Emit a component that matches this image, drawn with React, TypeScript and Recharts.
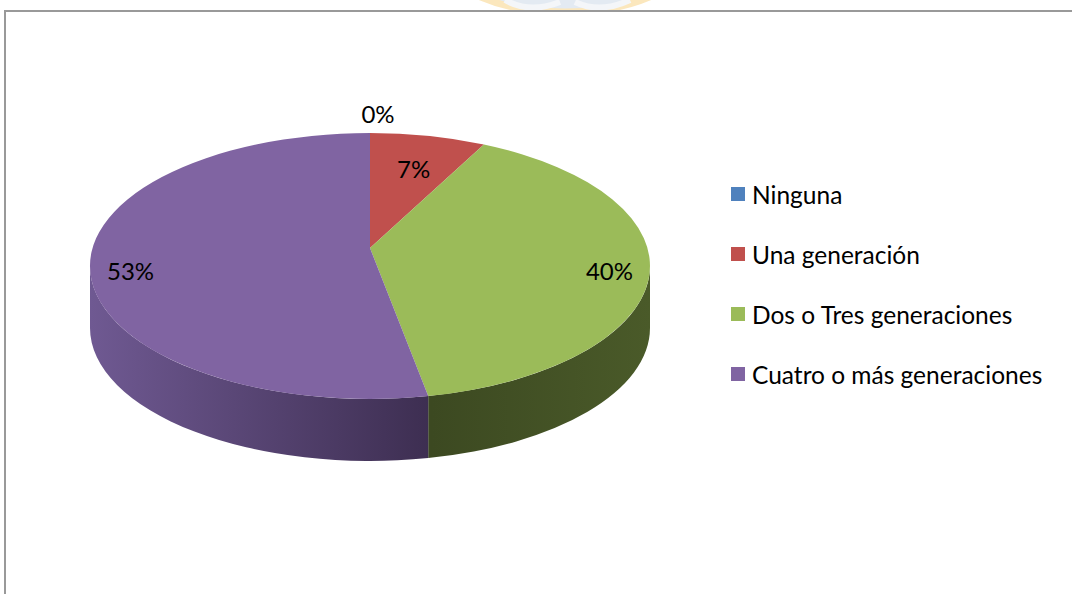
import { PieChart, Pie, Cell, Legend } from 'recharts'

const categories = [
  'Ninguna',
  'Una generación',
  'Dos o Tres generaciones',
  'Cuatro o más generaciones',
]
const counts = [0, 2, 12, 16]

const COLORS = ['#4F81BD', '#C0504D', '#9BBB59', '#8064A2']
// side shading per slice: left, front, right
const SIDE = [
  ['#3d6290', '#263e5c', '#30496b'],
  ['#923d3b', '#5c2524', '#6b2b29'],
  ['#5a6d31', '#3c4921', '#4a5a29'],
  ['#6f5992', '#3d2e51', '#4a3962'],
]

const FONT = 'Lato, "Open Sans", sans-serif'
const TILT = 0.475
const DEPTH = 62
const APEX_LIFT = 18
const RAD = Math.PI / 180

const data = categories.map((name, i) => ({ name, value: counts[i] }))

function Slice3D(props: any) {
  const { cx, cy, outerRadius, startAngle, endAngle, index } = props
  if (Math.abs(startAngle - endAngle) < 0.01) return <g />
  const rx = outerRadius
  const ry = outerRadius * TILT
  const pt = (a: number, dy = 0) =>
    `${(cx + rx * Math.cos(a * RAD)).toFixed(2)},${(cy - ry * Math.sin(a * RAD) + dy).toFixed(2)}`
  const hi = Math.max(startAngle, endAngle)
  const lo = Math.min(startAngle, endAngle)
  const large = hi - lo > 180 ? 1 : 0
  const top = `M${cx},${cy - APEX_LIFT} L${pt(hi)} A${rx},${ry} 0 ${large} 1 ${pt(lo)} Z`

  // visible front wall: angles between -180 and 0
  const a1 = Math.min(hi, 0)
  const a2 = Math.max(lo, -180)
  const gid = `side-grad-${index}`
  const shades = SIDE[index % SIDE.length]
  let side = null
  if (a1 > a2) {
    const d = `M${pt(a1)} A${rx},${ry} 0 0 1 ${pt(a2)} L${pt(a2, DEPTH)} A${rx},${ry} 0 0 0 ${pt(a1, DEPTH)} Z`
    side = <path d={d} fill={`url(#${gid})`} stroke="none" />
  }
  return (
    <g>
      <defs>
        <linearGradient id={gid} gradientUnits="userSpaceOnUse" x1={cx - rx} y1={0} x2={cx + rx} y2={0}>
          <stop offset="0" stopColor={shades[0]} />
          <stop offset="0.61" stopColor={shades[1]} />
          <stop offset="1" stopColor={shades[2]} />
        </linearGradient>
      </defs>
      {side}
      <path d={top} fill={COLORS[index % COLORS.length]} stroke="none" />
    </g>
  )
}

function renderLabel(props: any) {
  const { cx, cy, midAngle, outerRadius, percent } = props
  const rx = outerRadius
  const ry = outerRadius * TILT
  const f = percent < 0.02 ? 1.15 : percent < 0.1 ? 0.75 : 0.86
  const x = cx + rx * f * Math.cos(midAngle * RAD) + (percent < 0.02 ? 8 : 0)
  const y = cy - ry * f * Math.sin(midAngle * RAD) - (percent >= 0.1 ? 7 : 0)
  return (
    <text
      x={x}
      y={y}
      textAnchor="middle"
      dominantBaseline="central"
      fill="#000"
      fontSize={24}
      fontFamily={FONT}
    >
      {`${Math.round(percent * 100)}%`}
    </text>
  )
}

function LegendList() {
  return (
    <div style={{ fontFamily: FONT, fontSize: 24.5, color: '#000' }}>
      {categories.map((c, i) => (
        <div key={c} style={{ display: 'flex', alignItems: 'center', height: 60 }}>
          <span
            style={{ width: 14, height: 14, background: COLORS[i], marginRight: 7, flexShrink: 0 }}
          />
          <span style={{ whiteSpace: 'nowrap' }}>{c}</span>
        </div>
      ))}
    </div>
  )
}

export default function App() {
  return (
    <div
      style={{
        position: 'relative',
        width: 1072,
        height: 594,
        overflow: 'hidden',
        background: '#fff',
      }}
    >
      <style>{'body{margin:0}'}</style>
      {/* faint watermark peeking above the frame */}
      <svg width={1072} height={12} style={{ position: 'absolute', left: 0, top: 0 }}>
        <ellipse cx={565} cy={-40} rx={120} ry={52} fill="#e3eaf2" stroke="#fbe7bd" strokeWidth={7} />
        <path d="M505,0 Q530,14 560,2 M575,2 Q600,14 630,0" stroke="#f4f6f9" strokeWidth={6} fill="none" />
      </svg>
      <div style={{ position: 'absolute', left: 4, top: 10, width: 1068, height: 2, background: '#999' }} />
      <div style={{ position: 'absolute', left: 4, top: 10, width: 2, height: 584, background: '#999' }} />
      <div style={{ position: 'absolute', left: 0, top: 0 }}>
        <PieChart width={1072} height={594} margin={{ top: 0, right: 0, bottom: 0, left: 0 }}>
          <Pie
            data={data}
            dataKey="value"
            nameKey="name"
            cx={370}
            cy={266}
            outerRadius={280}
            startAngle={90}
            endAngle={-270}
            stroke="none"
            shape={Slice3D}
            label={renderLabel}
            labelLine={false}
            isAnimationActive={false}
          >
            {data.map((d, i) => (
              <Cell key={d.name} fill={COLORS[i]} />
            ))}
          </Pie>
          <Legend
            layout="vertical"
            verticalAlign="top"
            align="right"
            content={LegendList}
            wrapperStyle={{ left: 731, top: 164, width: 340 }}
          />
        </PieChart>
      </div>
    </div>
  )
}
